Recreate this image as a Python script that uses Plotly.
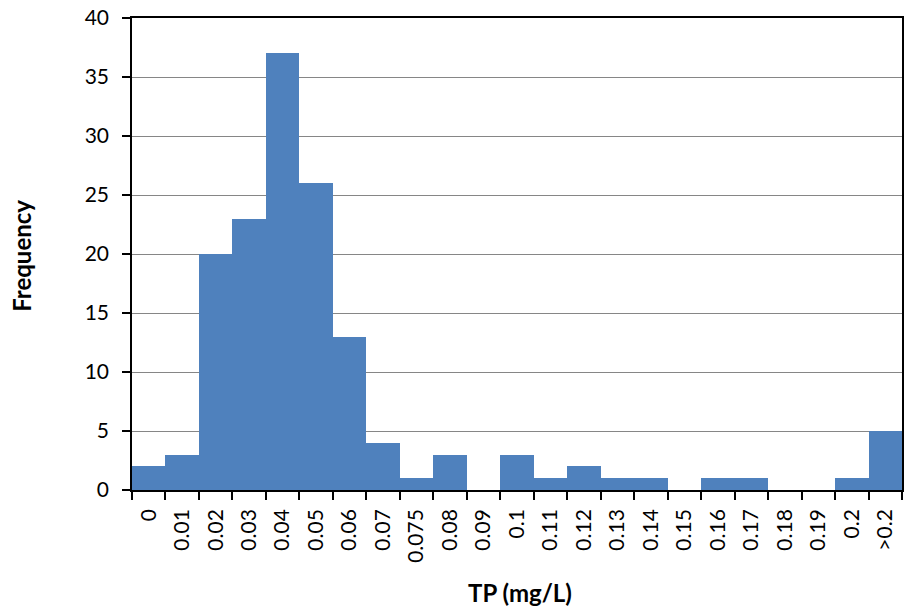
import plotly.graph_objects as go

categories = ["0", "0.01", "0.02", "0.03", "0.04", "0.05", "0.06", "0.07", "0.075",
              "0.08", "0.09", "0.1", "0.11", "0.12", "0.13", "0.14", "0.15", "0.16",
              "0.17", "0.18", "0.19", "0.2", ">0.2"]
frequency = [2, 3, 20, 23, 37, 26, 13, 4, 1, 3, 0, 3, 1, 2, 1, 1, 0, 1, 1, 0, 0, 1, 5]

x_title = "TP (mg/L)"
y_title = "Frequency"

font_family = "Lato, Open Sans, sans-serif"

fig = go.Figure(go.Bar(
    x=categories,
    y=frequency,
    marker=dict(color="#4F81BD", line=dict(width=0)),
    width=1.0,
))

fig.update_layout(
    width=904, height=612,
    margin=dict(l=132, r=2, t=18, b=122),
    paper_bgcolor="white", plot_bgcolor="white",
    bargap=0,
    showlegend=False,
    font=dict(family=font_family, size=21, color="black"),
    annotations=[
        dict(text="<b>" + x_title + "</b>", xref="paper", yref="paper",
             x=0.504, y=-0.218, xanchor="center", yanchor="middle",
             showarrow=False, font=dict(family=font_family, size=24)),
        dict(text="<b>" + y_title + "</b>", xref="paper", yref="paper",
             x=-0.143, y=0.496, xanchor="center", yanchor="middle", textangle=-90,
             showarrow=False, font=dict(family=font_family, size=24)),
    ],
)

fig.update_xaxes(
    type="category",
    automargin=False,
    tickangle=-90,
    tickson="boundaries",
    ticks="outside", ticklen=8, tickwidth=1.5, tickcolor="black",
    ticklabelstandoff=9,
    ticklabeloverflow="allow",
    showline=True, linecolor="black", linewidth=1.5, mirror=True,
    showgrid=False,
    tickfont=dict(family=font_family, size=21),
)

fig.update_yaxes(
    range=[0, 40], dtick=5,
    automargin=False,
    ticks="outside", ticklen=8, tickwidth=1.5, tickcolor="black",
    ticklabelstandoff=9,
    ticklabeloverflow="allow",
    showline=True, linecolor="black", linewidth=1.5, mirror=True,
    showgrid=True, gridcolor="#868686", gridwidth=1,
    zeroline=False,
    tickfont=dict(family=font_family, size=21),
)

fig.write_html(
    "out.html",
    config={"displayModeBar": False},
    post_script="document.body.style.margin='0';document.body.style.overflow='hidden';",
)
